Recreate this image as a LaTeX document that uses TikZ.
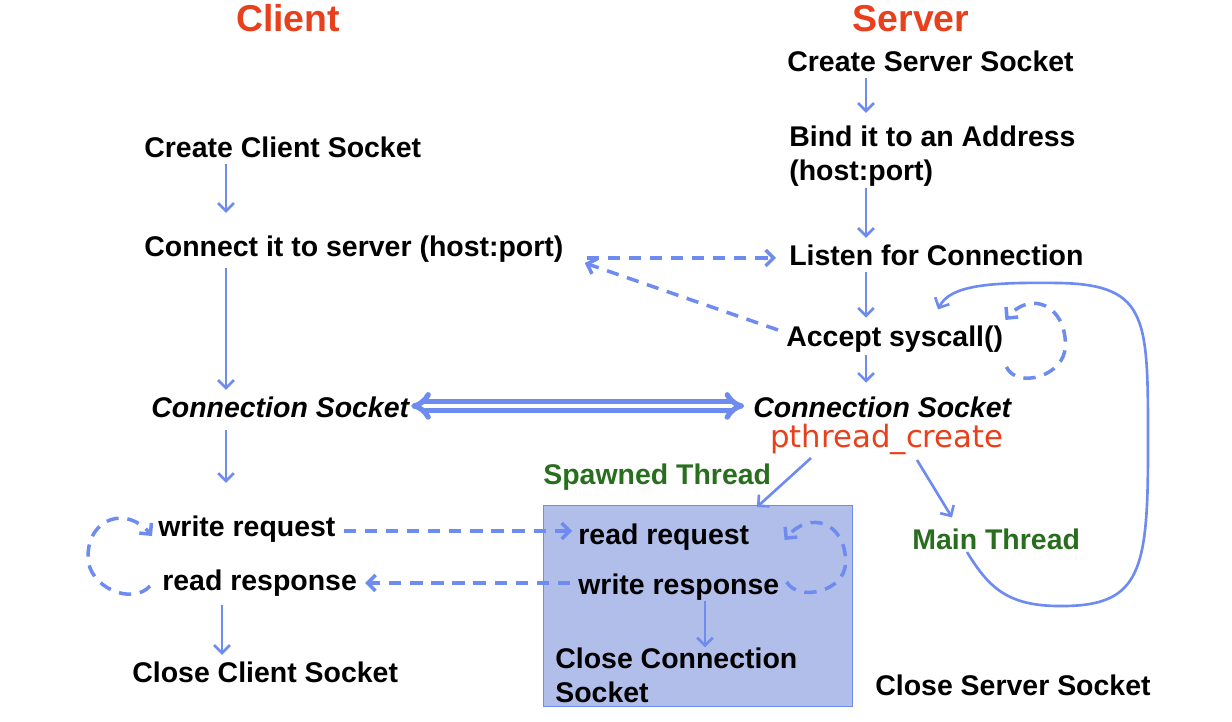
\documentclass[tikz,border=0pt]{standalone}
\usepackage{fontspec}
\setmainfont{Liberation Sans}
\newfontfamily\pthfont{DejaVu Sans}
\usetikzlibrary{arrows.meta,calc}
\definecolor{lineblue}{RGB}{110,140,240}
\definecolor{titlered}{RGB}{232,64,28}
\definecolor{threadgreen}{RGB}{40,110,30}
\definecolor{boxfill}{RGB}{178,190,234}
\begin{document}
\begin{tikzpicture}[x=0.02cm, y=-0.02cm,
    lbl/.style={font=\fontsize{16.2}{19}\selectfont\bfseries, inner sep=0pt, text height=11.5pt, text depth=3.5pt, anchor=base west},
    ilbl/.style={lbl, font=\fontsize{16.2}{19}\selectfont\bfseries\itshape},
    grn/.style={lbl, text=threadgreen},
    ttl/.style={font=\fontsize{21.3}{25}\selectfont\bfseries, text=titlered, inner sep=0pt, anchor=base},
    pth/.style={font=\fontsize{17.5}{21}\pthfont, text=titlered, inner sep=0pt, text depth=3.5pt, anchor=base west},
    arr/.style={draw=lineblue, line width=1.5pt, -{Straight Barb[length=4.5pt,width=9pt]}},
    darr/.style={arr, line width=2pt, dash pattern=on 7pt off 5pt},
    dbl/.style={draw=lineblue, double=white, double distance=1.8pt, line width=3pt, {Implies}-{Implies}},
    spawnbox/.style={draw=lineblue, fill=boxfill, line width=0.8pt, minimum width=6.18cm, minimum height=4.02cm, inner sep=0pt, anchor=north west}]
    \useasboundingbox (0,0) rectangle (1232,721);

    \node[spawnbox] (sbox) at (543,505) {};

    \node[ttl] (client) at (288,31) {Client};
    \node[ttl] (server) at (911,31) {Server};

    \node[lbl] (ccs) at (144,157) {Create Client Socket};
    \node[lbl] (conn) at (144,256) {Connect it to server (host:port)};
    \node[ilbl] (csock1) at (151,417) {Connection Socket};
    \node[lbl] (wreq) at (158,536) {write request};
    \node[lbl] (rresp) at (162,590) {read response};
    \node[lbl] (ccls) at (132,682) {Close Client Socket};

    \node[lbl] (scs) at (787,71) {Create Server Socket};
    \node[lbl] (bind) at (789,146) {Bind it to an Address};
    \node[lbl] (hostport) at (789,180) {(host:port)};
    \node[lbl] (listen) at (789,265) {Listen for Connection};
    \node[lbl] (accept) at (786,346) {Accept syscall()};
    \node[ilbl] (csock2) at (753,417) {Connection Socket};
    \node[pth] (pcreate) at (770,447) {pthread\_create};
    \node[grn] (spawn) at (543,484) {Spawned Thread};
    \node[grn] (mainth) at (912,549) {Main Thread};
    \node[lbl] (scls) at (875,695) {Close Server Socket};

    \node[lbl] (rreq) at (578,544) {read request};
    \node[lbl] (wresp) at (578,594) {write response};
    \node[lbl] (ccon) at (555,668) {Close Connection};
    \node[lbl] (ccon2) at (555,702) {Socket};

    \coordinate (ccol) at (226,0);
    \coordinate (rcol) at (222,0);
    \coordinate (scol) at (866,0);
    \coordinate (bcol) at (705,0);

    \draw[arr, shorten >=12.9pt] (ccs.south -| ccol) -- (conn.north -| ccol);
    \draw[arr, shorten <=3.3pt, shorten >=3.8pt] (conn.south -| ccol) -- (csock1.north -| ccol);
    \draw[arr, shorten <=3.8pt, shorten >=18.5pt] (csock1.south -| ccol) -- (wreq.north -| ccol);
    \draw[arr, shorten <=5pt, shorten >=3.8pt] (rresp.south -| rcol) -- (ccls.north -| rcol);

    \draw[arr, shorten >=7.2pt] (scs.south -| scol) -- (bind.north -| scol);
    \draw[arr, shorten <=1pt, shorten >=3.8pt] (hostport.south -| scol) -- (listen.north -| scol);
    \draw[arr, shorten >=4.4pt] (listen.south -| scol) -- (accept.north -| scol);
    \draw[arr, shorten <=1.6pt, shorten >=7.8pt] (accept.south -| scol) -- (csock2.north -| scol);
    \draw[arr] (wresp.south -| bcol) -- (ccon.north -| bcol);

    \draw[dbl, shorten <=1pt, shorten >=5pt] ([yshift=2.3pt]csock1.east) -- ([yshift=2.3pt]csock2.west);

    \draw[darr, shorten <=13pt, shorten >=7.4pt] (conn.east |- listen.west) -- (listen.west);
    \draw[darr] ($(accept.west)+(-8,-9)$) -- ($(conn.east)+(21,14)$);
    \draw[darr, shorten <=4.5pt, shorten >=3.4pt] ($(wreq.east)+(0,2)$) -- ($(wreq.east -| rreq.west)+(0,2)$);
    \draw[darr, shorten <=4.5pt, shorten >=4.5pt] ($(wresp.west)+(0,-4)$) -- ($(wresp.west -| rresp.east)+(0,-4)$);

    \draw[darr] ($(rresp.base west)+(-12,-4)$) .. controls +(-18,20) and +(0,30) .. ++(-62,-29)
        .. controls +(0,-40) and +(-25,-30) .. ($(wreq.base west)+(-6,0)$);
    \draw[darr] ($(wresp.east)+(7,-5)$) .. controls +(12,20) and +(0,30) .. ++(59,-20)
        .. controls +(0,-40) and +(25,-30) .. ($(rreq.east)+(35,3)$);
    \draw[darr] ($(accept.east)+(3,28)$) .. controls +(10,22) and +(0,32) .. ++(59,-22)
        .. controls +(0,-40) and +(25,-30) .. ($(accept.east)+(2,-19)$);

    \draw[arr] ($(pcreate.base west)+(41,11)$) -- ($(sbox.north west)+(214,2)$);
    \draw[arr] ($(pcreate.base west)+(147,13)$) -- ($(mainth.north west)+(40,-11)$);

    \draw[arr] ($(mainth.base west)+(55,3)$) .. controls (990,590) and (1010,607) .. (1065,606)
        .. controls (1140,605) and (1148,570) .. (1148,450)
        .. controls (1148,320) and (1150,285) .. (1060,283)
        .. controls (990,282) and (950,285) .. ($(accept.north west)+(152,-16)$);
\end{tikzpicture}
\end{document}
